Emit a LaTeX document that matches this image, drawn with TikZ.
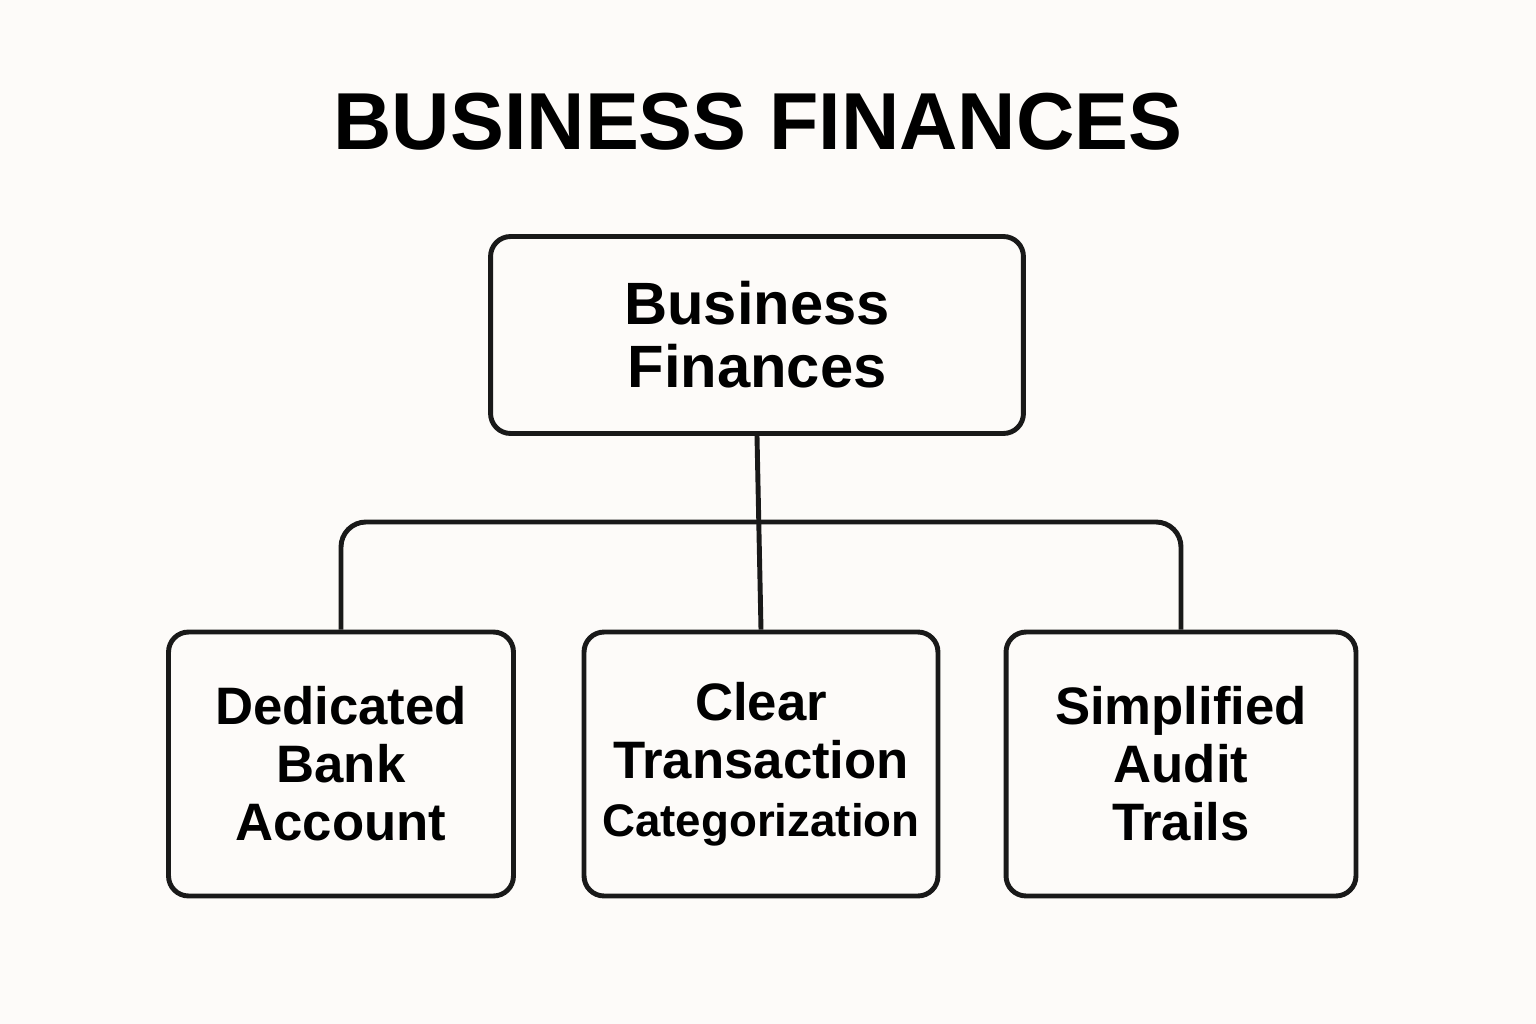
\documentclass[tikz,border=0pt]{standalone}
\usepackage{fontspec}
\setmainfont{Liberation Sans}
\begin{document}
\begin{tikzpicture}[x=0.02cm,y=-0.02cm,
           box/.style = {shape=rectangle, draw=black!90, line width=2.8pt,
             rounded corners=0.4cm, align=center, inner sep=0pt,
             font=\bfseries\fontsize{30}{33}\selectfont},
           link/.style = {draw=black!90, line width=2.8pt, rounded corners=0.5cm}]
           \fill[white!97!brown] (0,0) rectangle (1536,1024);
           \node (title) at (758,122) {\bfseries\fontsize{46}{50}\selectfont BUSINESS FINANCES};
           \node[box, minimum width=10.66cm, minimum height=3.94cm,
             font=\bfseries\fontsize{34}{36}\selectfont] (root) at (757,335) {Business\\Finances};
           \node[box, minimum width=6.9cm, minimum height=5.28cm] (bank) at (341,764)
             {Dedicated\\Bank\\Account};
           \node[box, minimum width=7.08cm, minimum height=5.28cm] (trans) at (761,764)
             {Clear\\Transaction\\{\fontsize{26}{33}\selectfont Categorization}};
           \node[box, minimum width=7.0cm, minimum height=5.28cm] (audit) at (1181,764)
             {Simplified\\Audit\\Trails};
           \coordinate (split) at (root.south |- 0,522);
           \draw[link] (root.south) -- (trans.north);
           \draw[link] (bank.north) -- (bank.north |- split) -- (audit.north |- split) -- (audit.north);
\end{tikzpicture}
\end{document}
